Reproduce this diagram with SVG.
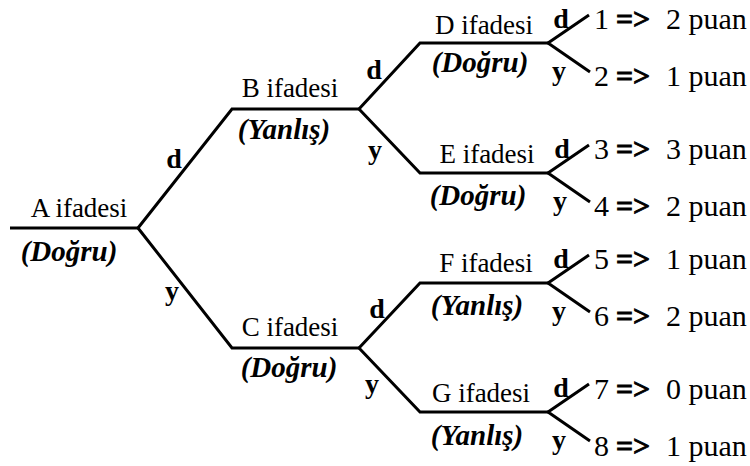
<svg xmlns="http://www.w3.org/2000/svg" width="750" height="466" viewBox="0 0 750 466">
<style>
text{font-family:"Liberation Serif","Times New Roman",serif;fill:#000}
.lbl{font-size:27px;text-anchor:middle}
.val{font-size:29px;font-weight:bold;font-style:italic;text-anchor:middle}
.br{font-size:28px;font-weight:bold;text-anchor:middle}
.leaf{font-size:30px}
.b{font-weight:bold;stroke:#000;stroke-width:0.9}
.ln{fill:none;stroke:#000;stroke-width:3;stroke-linejoin:miter}
</style>
<rect width="750" height="466" fill="#fff"/>
<g id="connectors">
<path class="ln" d="M10,228 H138"/>
<path class="ln" d="M138,228 L232,109 H359"/>
<path class="ln" d="M138,228 L232,348 H359"/>
<path class="ln" d="M359,109 L420,43 H548"/>
<path class="ln" d="M359,109 L420,173 H548"/>
<path class="ln" d="M359,348 L420,283 H548"/>
<path class="ln" d="M359,348 L420,412 H548"/>
<path class="ln" d="M589,15 L548,43 L590,72"/>
<path class="ln" d="M589,145 L548,173 L590,202"/>
<path class="ln" d="M589,255 L548,283 L590,312"/>
<path class="ln" d="M589,384 L548,412 L590,441"/>
<text class="br" x="174" y="168">d</text>
<text class="br" x="172" y="300">y</text>
<text class="br" x="374" y="79">d</text>
<text class="br" x="375" y="159">y</text>
<text class="br" x="377" y="318">d</text>
<text class="br" x="372" y="393">y</text>
<text class="br" x="561" y="28">d</text>
<text class="br" x="559" y="80">y</text>
<text class="br" x="562" y="158">d</text>
<text class="br" x="560" y="210">y</text>
<text class="br" x="561" y="268">d</text>
<text class="br" x="559" y="320">y</text>
<text class="br" x="561" y="397">d</text>
<text class="br" x="559" y="449">y</text>
</g>
<g id="nodeA"><text class="lbl" x="79" y="217">A ifadesi</text><text class="val" x="69" y="261">(Doğru)</text></g>
<g id="nodeB"><text class="lbl" x="290" y="97">B ifadesi</text><text class="val" x="284" y="139">(Yanlış)</text></g>
<g id="nodeC"><text class="lbl" x="290" y="336">C ifadesi</text><text class="val" x="289" y="377">(Doğru)</text></g>
<g id="nodeD"><text class="lbl" x="484" y="34">D ifadesi</text><text class="val" x="480" y="72">(Doğru)</text></g>
<g id="nodeE"><text class="lbl" x="487" y="163">E ifadesi</text><text class="val" x="478" y="205">(Doğru)</text></g>
<g id="nodeF"><text class="lbl" x="486" y="272">F ifadesi</text><text class="val" x="477" y="315">(Yanlış)</text></g>
<g id="nodeG"><text class="lbl" x="481" y="402">G ifadesi</text><text class="val" x="477" y="445">(Yanlış)</text></g>
<g id="leaf1"><text class="leaf" y="29"><tspan x="594">1</tspan><tspan class="b" x="616">=&gt;</tspan><tspan x="666">2 puan</tspan></text></g>
<g id="leaf2"><text class="leaf" y="86"><tspan x="594">2</tspan><tspan class="b" x="616">=&gt;</tspan><tspan x="666">1 puan</tspan></text></g>
<g id="leaf3"><text class="leaf" y="159"><tspan x="594">3</tspan><tspan class="b" x="616">=&gt;</tspan><tspan x="666">3 puan</tspan></text></g>
<g id="leaf4"><text class="leaf" y="216"><tspan x="594">4</tspan><tspan class="b" x="616">=&gt;</tspan><tspan x="666">2 puan</tspan></text></g>
<g id="leaf5"><text class="leaf" y="269"><tspan x="594">5</tspan><tspan class="b" x="616">=&gt;</tspan><tspan x="666">1 puan</tspan></text></g>
<g id="leaf6"><text class="leaf" y="326"><tspan x="594">6</tspan><tspan class="b" x="616">=&gt;</tspan><tspan x="666">2 puan</tspan></text></g>
<g id="leaf7"><text class="leaf" y="399"><tspan x="594">7</tspan><tspan class="b" x="616">=&gt;</tspan><tspan x="666">0 puan</tspan></text></g>
<g id="leaf8"><text class="leaf" y="456"><tspan x="594">8</tspan><tspan class="b" x="616">=&gt;</tspan><tspan x="666">1 puan</tspan></text></g>
</svg>
